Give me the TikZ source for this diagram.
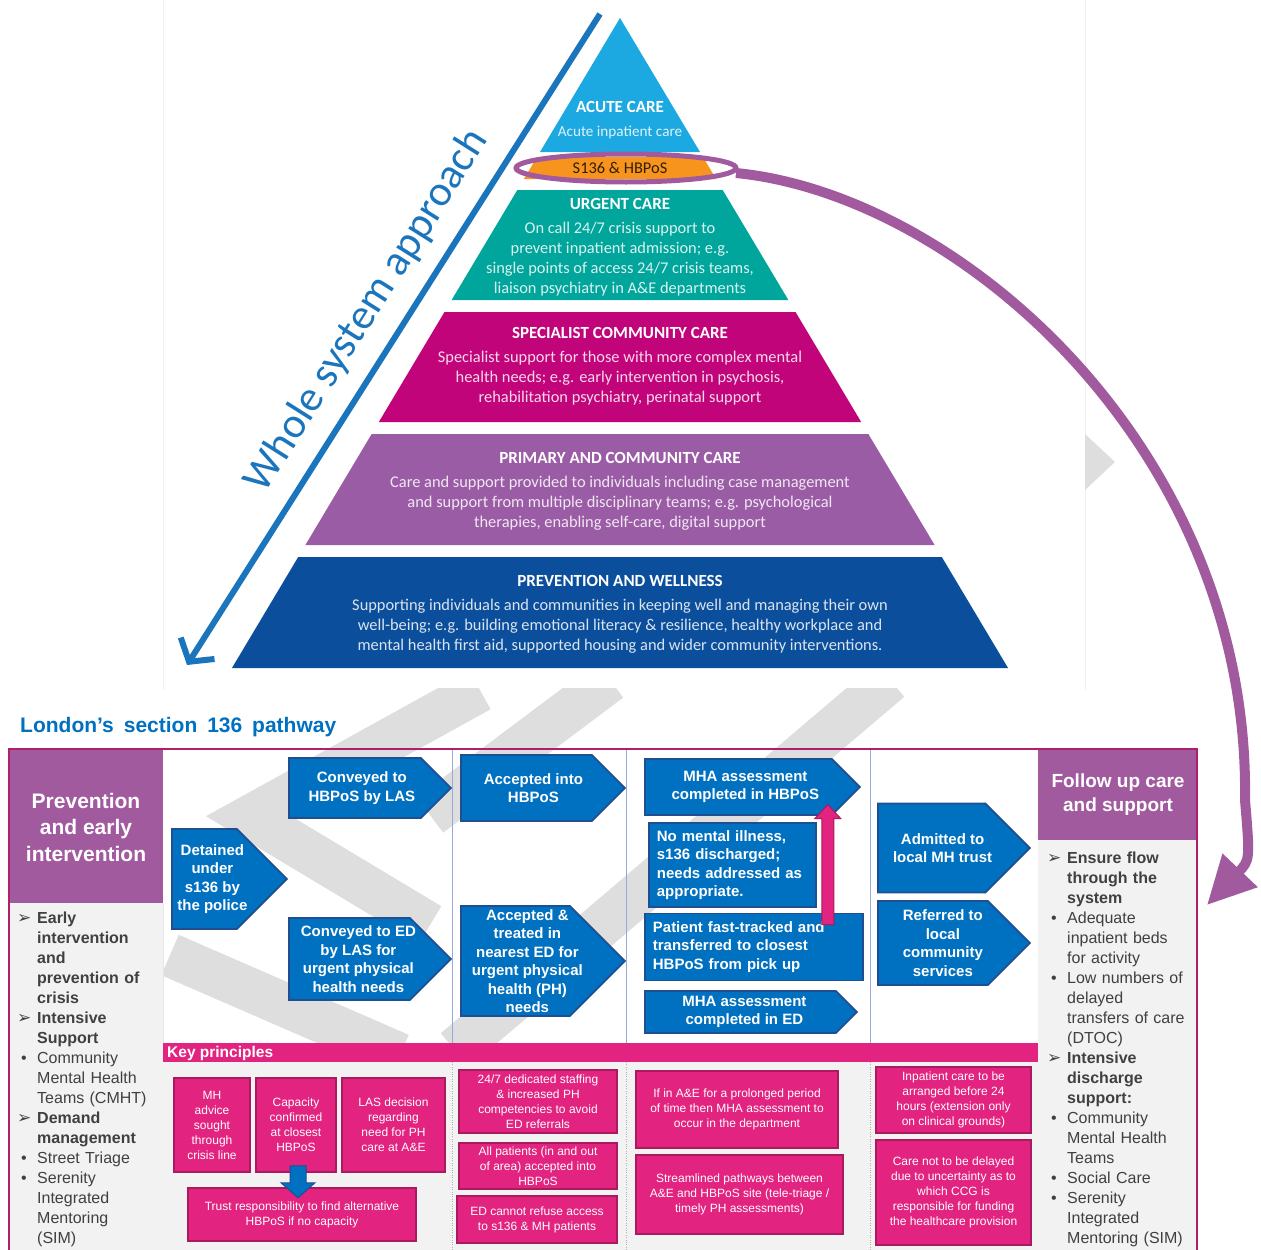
\documentclass[tikz,border=0pt]{standalone}
\usepackage{fontspec}
\setmainfont{Liberation Sans}
\newfontfamily\pyrfont{Carlito}
\newfontfamily\dingfont{DejaVu Sans}
\newfontfamily\titlefont[WordSpace=1.7]{Liberation Sans}
\usetikzlibrary{arrows.meta,shapes.symbols}

\definecolor{acute}{HTML}{1CA9E1}
\definecolor{hbpos}{HTML}{F7941D}
\definecolor{urgent}{HTML}{00A69C}
\definecolor{specialist}{HTML}{C2047A}
\definecolor{primary}{HTML}{9B5CA6}
\definecolor{prevent}{HTML}{0B4F9C}
\definecolor{wsa}{HTML}{1B75BC}
\definecolor{lilac}{HTML}{A25A9F}
\definecolor{frame}{HTML}{B01F6C}
\definecolor{panel}{HTML}{F2F2F2}
\definecolor{stepblue}{HTML}{0070C0}
\definecolor{stepedge}{HTML}{1F4E91}
\definecolor{keypink}{HTML}{E2237F}
\definecolor{keyedge}{HTML}{A91A5E}
\definecolor{divider}{HTML}{95AADB}
\definecolor{listgrey}{HTML}{404040}
\definecolor{draftmark}{HTML}{DEDEDE}

\newcommand{\arrowmark}{{\dingfont\fontsize{17}{17}\selectfont\char"27A2}}
\newcommand{\headitem}[1]{\par\hangindent=20pt\hangafter=1\noindent\makebox[20pt][l]{\arrowmark}\textbf{#1}}
\newcommand{\dotitem}[1]{\par\hangindent=20pt\hangafter=1\noindent\makebox[20pt][l]{\hspace{4pt}\textbullet}#1}
\newcommand{\pyrtitle}[1]{{\fontsize{17}{20}\selectfont\bfseries\color{white}#1}}

\begin{document}
\begin{tikzpicture}[x=1pt,y=-1pt,
  pyrtext/.style={font=\pyrfont\fontsize{16.4}{20}\selectfont,align=center,inner sep=0pt},
  stepbox/.style={signal,signal to=east,signal pointer angle=90,draw=stepedge,line width=1.8pt,
    fill=stepblue,inner sep=0pt,anchor=west},
  steptext/.style={text=white,font=\bfseries\fontsize{15}{18.5}\selectfont,align=center,inner sep=0pt},
  flatbox/.style={rectangle,draw=stepedge,line width=1.8pt,fill=stepblue,text=white,
    font=\bfseries\fontsize{15}{18.5}\selectfont,align=left,inner xsep=8pt,inner ysep=0pt,anchor=west},
  keybox/.style={rectangle,draw=keyedge,line width=1.5pt,fill=keypink,text=white,
    font=\fontsize{12}{15}\selectfont,align=center,inner sep=0pt},
  listtext/.style={text=listgrey,font=\fontsize{16}{20}\selectfont,align=left,inner sep=0pt,
    anchor=north west},
  draftstroke/.style={draftmark,line width=44pt}]

  \useasboundingbox (0,0) rectangle (1261,1250);

  % pyramid picture
  \draw[black!6] (163,-2) -- (163,690) (1085,-2) -- (1085,690);
  \fill[black!13] (1085,434) -- (1115,462) -- (1085,490) -- cycle;

  \fill[acute] (620,18) -- (700,152) -- (540,152) -- cycle;
  \foreach \ya/\yb/\col in {157/179/hbpos,190/300/urgent,312/422/specialist,434/545/primary,557/668/prevent}
    \fill[\col] ({620-0.597*(\ya-18)},\ya) -- ({620+0.597*(\ya-18)},\ya)
      -- ({620+0.597*(\yb-18)},\yb) -- ({620-0.597*(\yb-18)},\yb) -- cycle;

  \node[pyrtext,text=white!85!acute] (acutetxt) at (620,120)
    {\pyrtitle{ACUTE CARE}\\[4pt]{\fontsize{15.2}{20}\selectfont Acute inpatient care}};
  \node[pyrtext,text=black!80!hbpos] (s136) at (620,168) {S136 \& HBPoS};
  \node[pyrtext,text=white!85!urgent] (urgenttxt) at (620,247)
    {\pyrtitle{URGENT CARE}\\[4pt]On call 24/7 crisis support to\\prevent inpatient admission; e.g.\\
     single points of access 24/7 crisis teams,\\liaison psychiatry in A\&E departments};
  \node[pyrtext,text=white!85!specialist] (spectxt) at (620,366)
    {\pyrtitle{SPECIALIST COMMUNITY CARE}\\[4pt]Specialist support for those with more complex mental\\
     health needs; e.g. early intervention in psychosis,\\rehabilitation psychiatry, perinatal support};
  \node[pyrtext,text=white!85!primary] (primtxt) at (620,491)
    {\pyrtitle{PRIMARY AND COMMUNITY CARE}\\[4pt]Care and support provided to individuals including case management\\
     and support from multiple disciplinary teams; e.g. psychological\\therapies, enabling self-care, digital support};
  \node[pyrtext,text=white!85!prevent] (prevtxt) at (620,614)
    {\pyrtitle{PREVENTION AND WELLNESS}\\[4pt]Supporting individuals and communities in keeping well and managing their own\\
     well-being; e.g. building emotional literacy \& resilience, healthy workplace and\\
     mental health first aid, supported housing and wider community interventions.};

  \coordinate (wsatop) at (600,14);
  \coordinate (wsabottom) at (187,665);
  \draw[wsa,line width=6pt,-{Straight Barb[length=16pt,width=40pt]}] (wsatop) -- (wsabottom);
  \node[text=wsa,rotate=57.7,font=\pyrfont\fontsize{43}{43}\selectfont] (wsalabel) at (367,311)
    {Whole system approach};

  % pathway frame
  \fill[panel] (10,903) rectangle (163,1255);
  \fill[panel] (1038,840) rectangle (1197,1255);
  \fill[panel] (163,1062) rectangle (1038,1255);

  % faint draft watermark behind the pathway
  \begin{scope}
    \clip (163,688) rectangle (1038,1043);
    \draw[draftstroke,line join=miter] (480,690) -- (250,817) -- (430,925);
    \draw[draftstroke] (610,680) -- (430,815);
    \draw[draftstroke] (890,680) -- (455,1050);
    \draw[draftstroke] (170,955) -- (400,1055);
  \end{scope}

  \node[anchor=west,text=stepblue,font=\titlefont\bfseries\fontsize{21}{24}\selectfont,inner sep=0pt]
    (pathtitle) at (20,727) {London’s section 136 pathway};
  \fill[lilac] (10,749) rectangle (163,903);
  \fill[lilac] (1038,749) rectangle (1197,840);
  \fill[keypink] (163,1043) rectangle (1038,1062);
  \draw[black!10] (163,903) -- (163,1043);
  \foreach \x in {452,626,870} {
    \draw[divider,line width=0.8pt] (\x,750) -- (\x,1043);
    \draw[black!30,dotted] (\x,1062) -- (\x,1255);
  }
  \draw[frame,line width=2.5pt] (9,749) rectangle (1197,1260);

  \node[text=white,font=\bfseries\fontsize{21}{26.5}\selectfont,align=center] (prevhead) at (86,827)
    {Prevention\\and early\\intervention};
  \node[text=white,font=\bfseries\fontsize{19}{24}\selectfont,align=center] (followhead) at (1118,795)
    {Follow up care\\and support};
  \node[anchor=west,text=white,font=\bfseries\fontsize{15.5}{18}\selectfont,inner sep=0pt]
    (keylabel) at (167,1053) {Key principles};

  \node[listtext,text width=140pt] (prevlist) at (17,903)
    {\headitem{Early\newline intervention\newline and\newline prevention of\newline crisis}
     \headitem{Intensive\newline Support}
     \dotitem{Community\newline Mental Health\newline Teams (CMHT)}
     \headitem{Demand\newline management}
     \dotitem{Street Triage}
     \dotitem{Serenity\newline Integrated\newline Mentoring\newline (SIM)}\par};
  \node[listtext,text width=145pt] (followlist) at (1047,843)
    {\headitem{Ensure flow\newline through the\newline system}
     \dotitem{Adequate\newline inpatient beds\newline for activity}
     \dotitem{Low numbers of\newline delayed\newline transfers of care\newline (DTOC)}
     \headitem{Intensive\newline discharge\newline support:}
     \dotitem{Community\newline Mental Health\newline Teams}
     \dotitem{Social Care}
     \dotitem{Serenity\newline Integrated\newline Mentoring (SIM)}\par};

  % pathway steps
  \node[stepbox,minimum width=115pt,minimum height=100pt] (police) at (171,879) {};
  \node[steptext] (policetxt) at ([xshift=8pt]police.center) {Detained\\under\\s136 by\\the police};
  \node[stepbox,minimum width=162pt,minimum height=60pt] (tohbpos) at (288,788) {};
  \node[steptext] (tohbpostxt) at ([xshift=7pt]tohbpos.center) {Conveyed to\\HBPoS by LAS};
  \node[stepbox,minimum width=162pt,minimum height=82pt] (toed) at (288,959) {};
  \node[steptext] (toedtxt) at ([xshift=9pt]toed.center)
    {Conveyed to ED\\by LAS for\\urgent physical\\health needs};
  \node[stepbox,minimum width=164pt,minimum height=66pt] (accepted) at (460,788) {};
  \node[steptext] (acceptedtxt) at ([xshift=7pt]accepted.center) {Accepted into\\HBPoS};
  \node[stepbox,minimum width=164pt,minimum height=110pt] (treated) at (460,961) {};
  \node[steptext] (treatedtxt) at ([xshift=12pt]treated.center)
    {Accepted \&\\treated in\\nearest ED for\\urgent physical\\health (PH)\\needs};
  \node[stepbox,minimum width=215pt,minimum height=56pt] (mhahbpos) at (644,787) {};
  \node[steptext] (mhahbpostxt) at ([xshift=7pt]mhahbpos.center) {MHA assessment\\completed in HBPoS};
  \node[flatbox,text width=151pt,minimum height=84pt] (noillness) at (648,865)
    {No mental illness,\\s136 discharged;\\needs addressed as\\appropriate.};
  \node[flatbox,text width=202pt,minimum height=67pt] (track) at (644,947)
    {Patient fast-tracked and\\transferred to closest\\HBPoS from pick up};
  \node[stepbox,minimum width=212pt,minimum height=42pt] (mhaed) at (644,1012) {};
  \node[steptext] (mhaedtxt) at ([xshift=4pt]mhaed.center) {MHA assessment\\completed in ED};
  \node[stepbox,minimum width=152pt,minimum height=89pt] (admitted) at (877,848) {};
  \node[steptext] (admittedtxt) at ([xshift=11pt]admitted.center) {Admitted to\\local MH trust};
  \node[stepbox,minimum width=152pt,minimum height=84pt] (referred) at (877,943) {};
  \node[steptext] (referredtxt) at ([xshift=10pt]referred.center) {Referred to\\local\\community\\services};

  % fast-track arrow up to the HBPoS assessment
  \coordinate (upfoot) at ([xshift=-36pt,yshift=-12pt]track.north east);
  \filldraw[fill=keypink,draw=keyedge,line width=1pt] ([xshift=-6pt]upfoot) -- ++(0,-106) -- ++(-7,0)
    -- ++(13,-14) -- ++(13,14) -- ++(-7,0) -- ++(0,106) -- cycle;

  % key principles
  \node[keybox,minimum width=76pt,minimum height=94pt] (mhadvice) at (212,1125)
    {MH\\advice\\sought\\through\\crisis line};
  \node[keybox,minimum width=80pt,minimum height=94pt] (capacity) at (296,1125)
    {Capacity\\confirmed\\at closest\\HBPoS};
  \node[keybox,minimum width=103pt,minimum height=94pt] (lasdecision) at (393.5,1125)
    {LAS decision\\regarding\\need for PH\\care at A\&E};
  \node[keybox,minimum width=228pt,minimum height=53pt] (trust) at (302,1214.5)
    {Trust responsibility to find alternative\\HBPoS if no capacity};
  \node[keybox,minimum width=158pt,minimum height=63pt] (staffing) at (538,1101.5)
    {24/7 dedicated staffing\\\& increased PH\\competencies to avoid\\ED referrals};
  \node[keybox,minimum width=158pt,minimum height=46pt] (allpatients) at (538,1166)
    {All patients (in and out\\of area) accepted into\\HBPoS};
  \node[keybox,minimum width=160pt,minimum height=47pt] (norefuse) at (537,1219.5)
    {ED cannot refuse access\\to s136 \& MH patients};
  \node[keybox,minimum width=202pt,minimum height=77pt] (prolonged) at (737,1109.5)
    {If in A\&E for a prolonged period\\of time then MHA assessment to\\occur in the department};
  \node[keybox,minimum width=207pt,minimum height=79pt] (streamlined) at (739.5,1194.5)
    {Streamlined pathways between\\A\&E and HBPoS site (tele-triage /\\timely PH assessments)};
  \node[keybox,minimum width=155pt,minimum height=66pt] (inpatient) at (953.5,1100)
    {Inpatient care to be\\arranged before 24\\hours (extension only\\on clinical grounds)};
  \node[keybox,minimum width=155pt,minimum height=105pt] (ccg) at (953.5,1192.5)
    {Care not to be delayed\\due to uncertainty as to\\which CCG is\\responsible for funding\\the healthcare provision};

  % capacity arrow down to trust responsibility
  \coordinate (downfoot) at ([xshift=2pt,yshift=7pt]capacity.south);
  \filldraw[fill=stepblue,draw=stepedge,line width=1pt] ([xshift=-8pt]downfoot) -- ++(0,17) -- ++(-9,0)
    -- ++(17,15) -- ++(17,-15) -- ++(-9,0) -- ++(0,-17) -- cycle;

  % link from the pyramid to follow up care
  \coordinate (ring) at ([xshift=6pt]s136.center);
  \coordinate (followtip) at (1207,905);
  \draw[lilac,line width=5pt] (ring) ellipse [x radius=110,y radius=14];
  \draw[lilac,line width=10pt,-{Triangle[length=48pt,width=46pt]}]
    ([xshift=110pt,yshift=-5pt]ring) .. controls (960,195) and (1250,450) .. (1245,800)
    .. controls (1250,860) .. (followtip);

\end{tikzpicture}
\end{document}
